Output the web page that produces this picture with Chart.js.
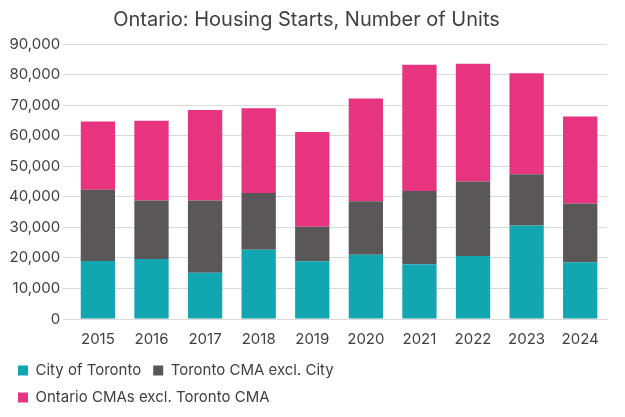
<!DOCTYPE html>
<html><head><meta charset="utf-8">
<script src="https://cdn.jsdelivr.net/npm/chart.js@4/dist/chart.umd.min.js"></script>
<style>html,body{margin:0;padding:0;background:#fff}#w{width:625px;height:417px}</style>
</head><body><div id="w"><canvas id="c"></canvas></div>
<script>
const years=["2015","2016","2017","2018","2019","2020","2021","2022","2023","2024"];
const cityToronto=[19000,19600,15100,22700,18900,21000,17900,20600,30600,18600];
const torontoCMAexcl=[23300,19200,23700,18500,11300,17500,24000,24400,16800,19200];
const ontarioCMAsExcl=[22300,26100,29600,27800,31000,33700,41300,38500,33000,28500];
const tickLabels=[0,10000,20000,30000,40000,50000,60000,70000,80000,90000];
Chart.defaults.font.family="Inter, 'Noto Sans', sans-serif";
Chart.defaults.color="#404040";
new Chart(document.getElementById('c'),{
type:'bar',
data:{labels:years,datasets:[
{label:'City of Toronto',data:cityToronto,backgroundColor:'#12a6b0'},
{label:'Toronto CMA excl. City',data:torontoCMAexcl,backgroundColor:'#5a5759'},
{label:'Ontario CMAs excl. Toronto CMA',data:ontarioCMAsExcl,backgroundColor:'#e8337f'}
]},
options:{responsive:true,maintainAspectRatio:false,animation:false,
layout:{padding:{left:6,right:18,top:4,bottom:2}},
datasets:{bar:{categoryPercentage:0.64,barPercentage:1}},
plugins:{
title:{display:true,text:'Ontario: Housing Starts, Number of Units',font:{size:20,weight:'normal'},color:'#404040',padding:{top:4,bottom:12}},
legend:{position:'bottom',align:'start',labels:{boxWidth:10,boxHeight:10,font:{size:15},padding:12,color:'#404040'}},
tooltip:{enabled:false}},
scales:{
x:{stacked:true,grid:{display:false},border:{color:'#d9d9d9'},ticks:{font:{size:15}}},
y:{stacked:true,min:0,max:90000,afterBuildTicks:a=>{a.ticks=tickLabels.map(v=>({value:v}));},
grid:{color:'#d9d9d9'},border:{display:false},
ticks:{font:{size:15},callback:v=>v.toLocaleString('en-US')}}
}}
});
</script></body></html>
